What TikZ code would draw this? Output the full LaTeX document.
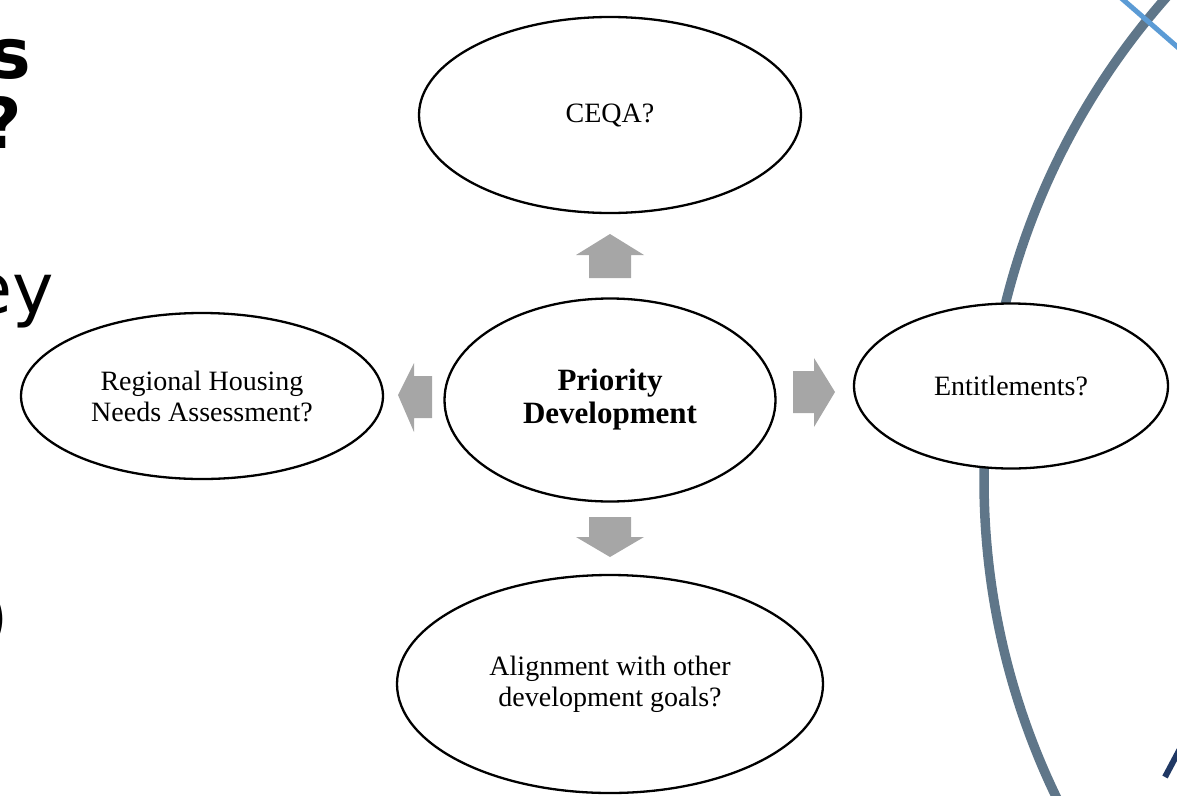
\documentclass[tikz,border=0pt]{standalone}
\usepackage{fontspec}
\setmainfont{Liberation Serif}
\newfontfamily\headfont{DejaVu Sans}
\usetikzlibrary{shapes.geometric}
\definecolor{arcgray}{RGB}{95,118,137}
\definecolor{lightblue}{RGB}{91,155,213}
\definecolor{navy}{RGB}{32,56,100}
\definecolor{arrowgray}{RGB}{166,166,166}
\tikzset{
  bubble/.style={ellipse, draw=black, line width=2.3pt, fill=white, inner sep=0pt, align=center,
    font=\fontsize{28}{31}\selectfont},
  blockarrow/.style={fill=arrowgray, draw=none},
  frag/.style={inner sep=0pt, anchor=base east}
}
\begin{document}
\begin{tikzpicture}[x=1pt,y=-1pt]
\useasboundingbox (0,0) rectangle (1177,795);
\begin{scope}
\clip (0,0) rectangle (1177,795);
% decorative arcs
\draw[arcgray, line width=9.5pt] (1714,480) circle[radius=730];
\draw[lightblue, line width=5pt] (1120,-3) -- (1182,51);
\draw[navy, line width=6pt] (1165,777) -- (1182,745);
% cropped heading text
\node[frag, font=\headfont\bfseries\fontsize{70}{70}\selectfont] (fs) at (31,78) {s};
\node[frag, font=\headfont\bfseries\fontsize{70}{70}\selectfont] (fq) at (22,148) {?};
\node[frag, font=\headfont\fontsize{70}{70}\selectfont] (fey) at (54,313) {ey};
\node[frag, font=\headfont\fontsize{70}{70}\selectfont] (fp) at (9,641) {)};
\end{scope}
% bubbles
\node[bubble, minimum width=382pt, minimum height=196pt] (ceqa) at (610,115) {CEQA?};
\node[bubble, minimum width=331pt, minimum height=203pt, font=\bfseries\fontsize{31}{33}\selectfont] (pd) at (610,400) {Priority\\Development};
\node[bubble, minimum width=362pt, minimum height=166pt] (rhna) at (202,396) {Regional Housing\\Needs Assessment?};
\node[bubble, minimum width=314pt, minimum height=165pt] (ent) at (1011,386) {Entitlements?};
\node[bubble, minimum width=426pt, minimum height=218pt] (align) at (610,684) {Alignment with other\\development goals?};
% block arrows
\fill[blockarrow] (589,278) -- (589,255) -- (576,255) -- (610,234) -- (644,255) -- (631,255) -- (631,278) -- cycle;
\fill[blockarrow] (589,517) -- (589,537) -- (576,537) -- (610,557) -- (644,537) -- (631,537) -- (631,517) -- cycle;
\fill[blockarrow] (793,371) -- (814,371) -- (814,358) -- (835,392) -- (814,427) -- (814,413) -- (793,413) -- cycle;
\fill[blockarrow] (432,376) -- (414,376) -- (414,363) -- (398,395) -- (414,432) -- (414,418) -- (432,418) -- cycle;
\end{tikzpicture}
\end{document}
